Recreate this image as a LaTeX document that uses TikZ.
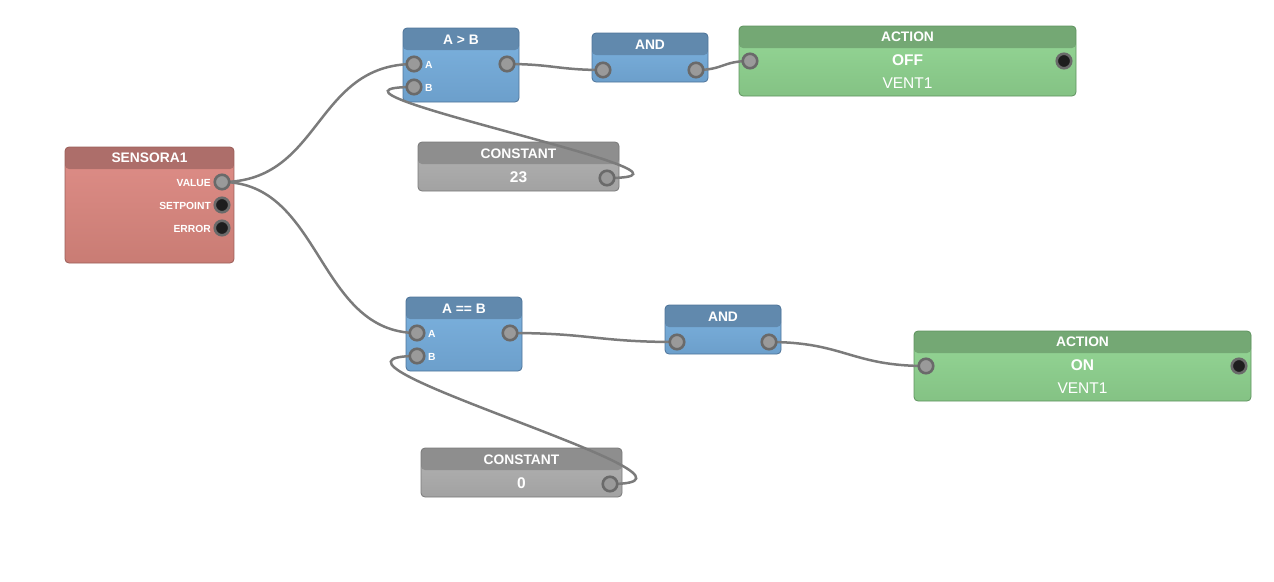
\documentclass[tikz,border=0pt]{standalone}
\usepackage{fontspec}
\setmainfont{Liberation Sans}
\pgfdeclarelayer{bg}\pgfdeclarelayer{wires}
\pgfsetlayers{bg,wires,main}
\definecolor{redH}{HTML}{AD6E6A}\definecolor{redT}{HTML}{DF8E88}\definecolor{redB}{HTML}{C97C74}\definecolor{redD}{HTML}{9A5D58}
\definecolor{bluH}{HTML}{6189AD}\definecolor{bluT}{HTML}{7DB3E0}\definecolor{bluB}{HTML}{6C9FCB}\definecolor{bluD}{HTML}{4E7398}
\definecolor{grnH}{HTML}{74A874}\definecolor{grnT}{HTML}{96D897}\definecolor{grnB}{HTML}{84C284}\definecolor{grnD}{HTML}{5F935F}
\definecolor{gryH}{HTML}{8E8E8E}\definecolor{gryT}{HTML}{B3B3B3}\definecolor{gryB}{HTML}{A2A2A2}\definecolor{gryD}{HTML}{7A7A7A}
\definecolor{portF}{HTML}{9A9A9A}\definecolor{portR}{HTML}{6A6A6A}\definecolor{portK}{HTML}{1E1E1E}
\definecolor{wireC}{HTML}{7B7B7B}
\begin{document}
\begin{tikzpicture}[x=1pt,y=-1pt,
  blk/.style n args={4}{draw=#1, top color=#2, bottom color=#3, rounded corners=4pt, inner sep=0pt, line width=0.8pt,
    path picture={\fill[#4] (path picture bounding box.north west) rectangle ([yshift=-22pt]path picture bounding box.north east);}},
  redblk/.style={blk={redD}{redT}{redB}{redH}},
  blublk/.style={blk={bluD}{bluT}{bluB}{bluH}},
  grnblk/.style={blk={grnD}{grnT}{grnB}{grnH}},
  gryblk/.style={blk={gryD}{gryT}{gryB}{gryH}},
  title/.style={text=white, font=\bfseries\fontsize{13.8}{14}\selectfont, inner sep=0pt},
  plabel/.style={text=white, font=\bfseries\fontsize{10.3}{11}\selectfont, inner sep=0pt},
  bigb/.style={text=white, font=\bfseries\fontsize{15.5}{16}\selectfont, inner sep=0pt},
  bigr/.style={text=white, font=\fontsize{15.5}{16}\selectfont, inner sep=0pt},
  port/.style={circle, minimum size=14.5pt, inner sep=0pt, fill=portF, draw=portR, line width=2.6pt},
  portk/.style={port, fill=portK},
  wire/.style={draw=wireC, line width=2.5pt}
]
\useasboundingbox (0,0) rectangle (1274,581);
\begin{pgfonlayer}{bg}
\node[redblk, minimum width=169pt, minimum height=116pt] (sens) at (149.5,205) {};
\node[blublk, minimum width=116pt, minimum height=74pt] (gt) at (461,65) {};
\node[blublk, minimum width=116pt, minimum height=49pt] (and1) at (650,57.5) {};
\node[grnblk, minimum width=337pt, minimum height=70pt] (act1) at (907.5,61) {};
\node[gryblk, minimum width=201pt, minimum height=49pt] (c23) at (518.5,166.5) {};
\node[blublk, minimum width=116pt, minimum height=74pt] (eq) at (464,334) {};
\node[blublk, minimum width=116pt, minimum height=49pt] (and2) at (723,329.5) {};
\node[grnblk, minimum width=337pt, minimum height=70pt] (act2) at (1082.5,366) {};
\node[gryblk, minimum width=201pt, minimum height=49pt] (c0) at (521.5,472.5) {};
\end{pgfonlayer}
% titles
\node[title] (tSens) at (149.5,158) {SENSORA1};
\node[title] (tGt) at (461,39.5) {A > B};
\node[title] (tAnd1) at (650,44.5) {AND};
\node[title] (tAct1) at (907.5,37) {ACTION};
\node[title] (tC23) at (518.5,153.5) {CONSTANT};
\node[title] (tEq) at (464,308.5) {A == B};
\node[title] (tAnd2) at (723,316.5) {AND};
\node[title] (tAct2) at (1082.5,342) {ACTION};
\node[title] (tC0) at (521.5,459.5) {CONSTANT};
% body labels
\node[plabel, anchor=east] (lVal) at (211,183) {VALUE};
\node[plabel, anchor=east] (lSet) at (211,206) {SETPOINT};
\node[plabel, anchor=east] (lErr) at (211,229) {ERROR};
\node[plabel, anchor=west] (lGa) at (425,64.5) {A};
\node[plabel, anchor=west] (lGb) at (425,87.5) {B};
\node[plabel, anchor=west] (lEa) at (428,333.5) {A};
\node[plabel, anchor=west] (lEb) at (428,356.5) {B};
\node[bigb] (off) at (907.5,60) {OFF};
\node[bigr] (v1) at (907.5,83) {VENT1};
\node[bigb] (on) at (1082.5,365) {ON};
\node[bigr] (v2) at (1082.5,388) {VENT1};
\node[bigb] (n23) at (518.5,177.5) {23};
\node[bigb] (n0) at (521.5,483.5) {0};
% ports
\node[port] (pVal) at (222,182) {};
\node[portk] (pSet) at (222,205) {};
\node[portk] (pErr) at (222,228) {};
\node[port] (pGa) at (414,64) {};
\node[port] (pGb) at (414,87) {};
\node[port] (pGo) at (507,64) {};
\node[port] (pA1i) at (603,70) {};
\node[port] (pA1o) at (696,70) {};
\node[port] (pX1i) at (750,61) {};
\node[portk] (pX1o) at (1064,61) {};
\node[port] (pC23) at (607,178) {};
\node[port] (pEa) at (417,333) {};
\node[port] (pEb) at (417,356) {};
\node[port] (pEo) at (510,333) {};
\node[port] (pA2i) at (677,342) {};
\node[port] (pA2o) at (769,342) {};
\node[port] (pX2i) at (926,366) {};
\node[portk] (pX2o) at (1239,366) {};
\node[port] (pC0) at (610,484) {};
% wires
\begin{pgfonlayer}{wires}
\draw[wire] (pVal.center) .. controls +(100,0) and +(-100,0) .. (pGa.center);
\draw[wire] (pVal.center) .. controls +(100,0) and +(-100,0) .. (pEa.center);
\draw[wire] (pC23.center) .. controls +(140,0) and +(-140,0) .. (pGb.center);
\draw[wire] (pC0.center) .. controls +(140,0) and +(-140,0) .. (pEb.center);
\draw[wire] (pGo.center) .. controls +(45,0) and +(-45,0) .. (pA1i.center);
\draw[wire] (pA1o.center) .. controls +(28,0) and +(-28,0) .. (pX1i.center);
\draw[wire] (pEo.center) .. controls +(80,0) and +(-80,0) .. (pA2i.center);
\draw[wire] (pA2o.center) .. controls +(75,0) and +(-75,0) .. (pX2i.center);
\end{pgfonlayer}
\end{tikzpicture}
\end{document}
